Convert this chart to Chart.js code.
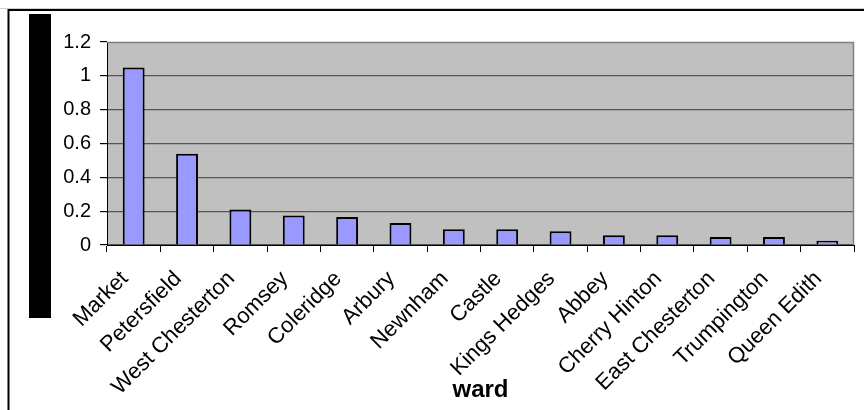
<!DOCTYPE html>
<html>
<head>
<meta charset="utf-8">
<script src="https://cdn.jsdelivr.net/npm/chart.js@4/dist/chart.umd.min.js"></script>
<style>
html,body{margin:0;padding:0;background:#fff;}
#wrap{width:864px;height:410px;position:relative;}
</style>
</head>
<body>
<div id="wrap"><canvas id="c" width="864" height="410"></canvas></div>
<script>
const wards = ["Market","Petersfield","West Chesterton","Romsey","Coleridge","Arbury","Newnham","Castle","Kings Hedges","Abbey","Cherry Hinton","East Chesterton","Trumpington","Queen Edith"];
const values = [1.05,0.54,0.21,0.175,0.165,0.13,0.093,0.093,0.081,0.058,0.058,0.048,0.048,0.025];
const yTicks = [0,0.2,0.4,0.6,0.8,1,1.2];
const xTitle = "ward";

const framePlugin = {
  id:'frame',
  beforeDraw(chart){
    const ctx = chart.ctx, a = chart.chartArea;
    ctx.save();
    ctx.fillStyle='#fff';
    ctx.fillRect(0,0,chart.width,chart.height);
    ctx.strokeStyle='#d0d0d0'; ctx.lineWidth=1;
    ctx.beginPath(); ctx.moveTo(0,8.5); ctx.lineTo(chart.width,8.5); ctx.stroke();
    ctx.strokeStyle='#000'; ctx.lineWidth=2;
    ctx.beginPath(); ctx.moveTo(8.5,chart.height); ctx.lineTo(8.5,10); ctx.lineTo(chart.width,10); ctx.stroke();
    ctx.fillStyle='#000';
    ctx.fillRect(29,14,22,304);
    ctx.fillStyle='#C0C0C0';
    ctx.fillRect(a.left,a.top,a.right-a.left,a.bottom-a.top);
    ctx.restore();
  },
  afterDatasetsDraw(chart){
    const ctx = chart.ctx, a = chart.chartArea;
    ctx.save();
    ctx.strokeStyle='#808080'; ctx.lineWidth=1.5;
    ctx.beginPath(); ctx.moveTo(a.left,a.top+0.5); ctx.lineTo(a.right-0.5,a.top+0.5); ctx.lineTo(a.right-0.5,a.bottom); ctx.stroke();
    ctx.restore();
  }
};

new Chart(document.getElementById('c'),{
  type:'bar',
  data:{labels:wards,datasets:[{data:values,backgroundColor:'#9999FF',borderColor:'#000',borderWidth:2,barPercentage:0.41,categoryPercentage:1}]},
  options:{
    responsive:false,animation:false,devicePixelRatio:1,
    layout:{padding:{left:0,top:42,right:10,bottom:0}},
    plugins:{legend:{display:false},tooltip:{enabled:false}},
    scales:{
      x:{
        grid:{drawOnChartArea:false,drawTicks:true,tickLength:7,tickColor:'#000',offset:true},
        border:{color:'#000',width:1},
        ticks:{color:'#000',font:{family:'Liberation Sans, Arial',size:22},minRotation:45,maxRotation:45,autoSkip:false,padding:14,labelOffset:-9},
        title:{display:true,text:xTitle,color:'#000',font:{family:'Liberation Sans, Arial',size:24,weight:'bold'},padding:{top:0,bottom:5}},
        afterFit(s){s.height=165;}
      },
      y:{
        min:0,max:1.2,
        afterBuildTicks(s){s.ticks=yTicks.map(v=>({value:v}));},
        grid:{color:(c)=>c.tick && c.tick.value===1.2?'rgba(0,0,0,0)':'#555',lineWidth:1.2,tickLength:7,tickColor:'#000'},
        border:{color:'#000',width:1},
        ticks:{color:'#000',font:{family:'Liberation Sans, Arial',size:20},padding:9,callback:(v)=>String(v)},
        afterFit(s){s.width=107;}
      }
    }
  },
  plugins:[framePlugin]
});
</script>
</body>
</html>
